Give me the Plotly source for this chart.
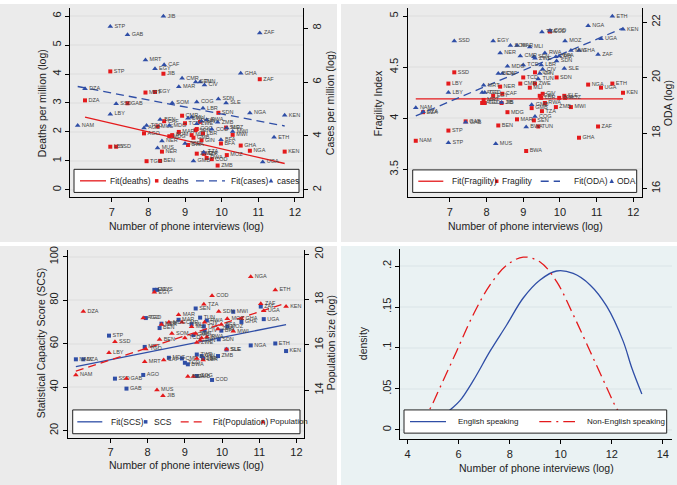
import plotly.graph_objects as go

W, H = 677, 485

# ---------------- data ----------------
codes = ["NAM", "DZA", "STP", "LBY", "SSD", "GAB", "AGO", "MRT", "TGO", "EGY", "MUS", "BEN", "NER",
         "JIB", "CAF", "MDG", "SOM", "MAR", "CMR", "TCD", "BWA", "MLI", "GMB", "SEN", "COG", "ZWE",
         "TUN", "GIN", "LBR", "TZA", "CIV", "RWA", "COD", "ZMB", "SDN", "BFA", "SLE", "MOZ", "MWI",
         "GHA", "NGA", "ZAF", "UGA", "ETH", "KEN"]
log_interviews = [6.07, 6.27, 6.96, 6.96, 7.12, 7.43, 7.88, 7.92, 7.95, 8.18, 8.25, 8.32, 8.37,
                  8.41, 8.43, 8.57, 8.65, 8.83, 8.92, 9.00, 9.08, 9.18, 9.23, 9.29, 9.32, 9.32,
                  9.41, 9.45, 9.49, 9.51, 9.53, 9.59, 9.73, 9.89, 9.91, 9.98, 10.12, 10.14, 10.30,
                  10.52, 10.77, 11.04, 11.12, 11.43, 11.72]

deaths = [None, 3.09, 4.09, 1.49, 1.49, 2.99, 1.95, 3.36, 0.99, 3.38, 2.19, 1.00, 1.32,
          4.01, 2.37, 1.85, 1.89, 2.00, 2.56, 2.30, 1.55, 1.89, 1.80, 2.06, 2.10, 1.25,
          2.35, 1.71, 1.95, 1.25, 1.25, 1.10, 1.06, 0.84, 2.66, 1.60, 2.15, 1.20, 1.90,
          1.53, 1.35, 3.82, None, None, 1.32]
cases = [4.39, 5.75, 8.06, 4.81, 5.20, 7.76, 4.30, 6.82, 4.39, 6.49, 3.55, 4.61, 3.81,
         8.44, 6.64, 4.39, 5.22, 5.83, 6.14, 3.72, 4.66, 4.69, 3.07, 6.00, 5.26, 4.45,
         6.00, 4.55, 5.03, 3.40, 5.89, 4.60, 4.25, 4.51, 5.37, 3.86, 5.22, 4.30, 4.17,
         6.33, 4.85, 7.82, 3.03, 3.95, 4.77]

fragility = [3.78, 4.06, 3.88, 4.34, 4.45, 3.97, 4.15, 4.18, 4.15, 4.22, None, 3.93, 4.31,
             4.15, 4.24, 4.06, None, 3.99, 4.34, 4.40, 3.68, 4.30, 4.10, 3.98, 4.45, 4.34,
             3.92, 4.22, 4.20, 4.07, 4.24, 4.15, 4.85, 4.11, 4.40, 4.20, 4.22, 4.20, 4.11,
             3.81, 4.33, 3.92, 4.30, 4.34, 4.25]
oda = [18.91, 18.77, 17.65, 19.46, 21.32, 18.39, 19.46, 19.72, 19.46, 21.32, 17.61, 20.15, 20.89,
       19.10, 20.15, 20.41, 21.16, 21.16, 20.78, 20.45, 18.22, 21.10, 19.02, 20.75, 18.60, 20.70,
       19.95, 20.15, 20.45, 21.64, 20.30, 20.89, 21.70, 20.75, 20.60, 20.78, 20.33, 21.32, 20.98,
       20.98, 21.87, 20.83, 21.40, 22.21, 21.74]

scs = [52.8, 52.8, 63.7, None, 43.9, 39.3, 45.6, 58.5, 71.8, 84.8, 84.8, 67.2, 69.2,
       None, None, 53.5, None, 71.0, 53.2, 51.2, 50.5, 69.0, 64.0, 76.2, 45.1, 55.0,
       72.0, 54.3, 53.2, 68.0, 66.0, 70.7, 43.3, 54.3, 62.0, 66.0, 57.3, 68.0, 74.7,
       70.0, 59.2, 77.1, 71.3, 60.1, 56.6]
population = [14.67, 17.47, None, 15.65, 16.13, 14.51, 17.18, 15.25, 15.82, 18.32, 14.00, 16.23, 16.90,
              13.75, 15.33, 17.00, 16.50, 17.33, 17.00, 16.30, 14.60, 16.80, 14.60, 16.50, 15.40, 16.10,
              16.20, 16.30, 15.33, 17.79, 17.00, 16.35, 18.17, 16.70, 17.47, 16.90, 15.80, 17.15, 16.60,
              17.15, 19.00, 17.81, 17.50, 18.42, 17.69]

# linear fits: (intercept, slope)
fit_deaths = (4.351, -0.2936)
fit_cases = (7.410, -0.2594)
fit_fragility = (4.19, 0.0)
fit_oda = (15.215, 0.5605)
fit_scs = (28.56, 3.434)
fit_population = (11.617, 0.531)

# kernel densities of log phone interviews
dens_x_english = [5.30, 5.66, 6.05, 6.57, 7.23, 7.88, 8.53, 9.19, 9.84, 10.49, 11.15, 11.80, 12.45, 12.78, 13.18]
dens_y_english = [0.013, 0.024, 0.0355, 0.060, 0.096, 0.128, 0.161, 0.183, 0.194, 0.191, 0.177, 0.151, 0.108, 0.076, 0.0436]
dens_x_non = [4.50, 4.85, 5.27, 5.92, 6.57, 7.23, 7.88, 8.53, 9.19, 9.84, 10.49, 11.15, 11.80, 12.20, 12.55]
dens_y_non = [0.008, 0.024, 0.0517, 0.096, 0.1406, 0.177, 0.201, 0.211, 0.205, 0.181, 0.1406, 0.096, 0.0517, 0.0255, 0.010]

# ---------------- style ----------------
RED = "#e41a1c"
BLUE = "#2f4ea6"
GREY_BG = "#ebebeb"
BLUE_BG = "#eaf2f3"
GRID = "#e4e4e4"
GRID4 = "#e2ebed"
FONT = "Liberation Sans, Arial, sans-serif"
LBL = dict(size=5.5, color="#444444", family=FONT)


def px_x(a, b):
    return [a / W, b / W]


def px_y(top, bottom):
    return [1 - bottom / H, 1 - top / H]


def pts(vals):
    xs = [x for x, v in zip(log_interviews, vals) if v is not None]
    ys = [v for v in vals if v is not None]
    ts = [c for c, v in zip(codes, vals) if v is not None]
    return xs, ys, ts


fig = go.Figure()


def add_scatter(vals, xa, ya, symbol, color, size, name):
    xs, ys, ts = pts(vals)
    fig.add_trace(go.Scatter(x=xs, y=ys, text=ts, mode="markers+text", textposition="middle right",
                             textfont=LBL, marker=dict(symbol=symbol, color=color, size=size, line=dict(width=0)),
                             xaxis=xa, yaxis=ya, name=name, showlegend=False, cliponaxis=False))


def add_fit(vals, fit, xa, ya, color, dash, name):
    xs, ys, ts = pts(vals)
    x0, x1 = min(xs), max(xs)
    a, b = fit
    fig.add_trace(go.Scatter(x=[x0, x1], y=[a + b * x0, a + b * x1], mode="lines",
                             line=dict(color=color, width=1.3, dash=dash), xaxis=xa, yaxis=ya,
                             name=name, showlegend=False))


# panel 1
add_fit(deaths, fit_deaths, "x", "y", RED, "solid", "Fit(deaths)")
add_fit(cases, fit_cases, "x", "y2", BLUE, "8px,5px", "Fit(cases)")
add_scatter(deaths, "x", "y", "square", RED, 4, "deaths")
add_scatter(cases, "x", "y2", "triangle-up", BLUE, 5, "cases")
# panel 2
add_fit(fragility, fit_fragility, "x2", "y3", RED, "solid", "Fit(Fragility)")
add_fit(oda, fit_oda, "x2", "y4", BLUE, "8px,5px", "Fit(ODA)")
add_scatter(fragility, "x2", "y3", "square", RED, 4, "Fragility")
add_scatter(oda, "x2", "y4", "triangle-up", BLUE, 5, "ODA")
# panel 3
add_fit(scs, fit_scs, "x3", "y5", BLUE, "solid", "Fit(SCS)")
add_fit(population, fit_population, "x3", "y6", RED, "8px,5px", "Fit(Population)")
add_scatter(scs, "x3", "y5", "square", BLUE, 4, "SCS")
add_scatter(population, "x3", "y6", "triangle-up", RED, 5, "Population")
# panel 4
fig.add_trace(go.Scatter(x=dens_x_english, y=dens_y_english, mode="lines",
                         line=dict(color=BLUE, width=1.3, shape="spline"),
                         xaxis="x4", yaxis="y7", name="English speaking", showlegend=False))
fig.add_trace(go.Scatter(x=dens_x_non, y=dens_y_non, mode="lines",
                         line=dict(color=RED, width=1.3, dash="12px,5px,2px,5px", shape="spline"),
                         xaxis="x4", yaxis="y7", name="Non-English speaking", showlegend=False))

tickfont = dict(size=11, color="#222222", family=FONT)
common_x = dict(showline=True, linecolor="black", linewidth=1, ticks="outside", ticklen=4, tickcolor="black",
                zeroline=False, tickfont=tickfont)
common_y = dict(showline=True, linecolor="black", linewidth=1, ticks="outside", ticklen=4, tickcolor="black",
                zeroline=False, tickfont=tickfont, tickangle=-90)

fig.update_layout(
    width=W, height=H, margin=dict(l=0, r=0, t=0, b=0),
    paper_bgcolor="white", plot_bgcolor="white", showlegend=False,
    font=dict(family=FONT, color="#222222"),
    xaxis=dict(domain=px_x(70, 303), range=[5.86, 12.22], tickvals=[7, 8, 9, 10, 11, 12], anchor="y",
               showgrid=False, **common_x),
    yaxis=dict(domain=px_y(4, 195), range=[-0.26, 6.28], tickvals=[0, 1, 2, 3, 4, 5, 6], anchor="x",
               showgrid=True, gridcolor=GRID, gridwidth=1.5, **common_y),
    yaxis2=dict(overlaying="y", side="right", anchor="x", range=[1.72, 8.75], tickvals=[2, 4, 6, 8],
                showgrid=False, **common_y),
    xaxis2=dict(domain=px_x(407.7, 641.7), range=[5.85, 12.23], tickvals=[7, 8, 9, 10, 11, 12], anchor="y3",
                showgrid=False, **common_x),
    yaxis3=dict(domain=px_y(4, 195), range=[3.226, 5.08], tickvals=[3.5, 4, 4.5, 5], ticktext=["3.5", "4", "4.5", "5"],
                anchor="x2", showgrid=True, gridcolor=GRID, gridwidth=1.5, **common_y),
    yaxis4=dict(overlaying="y3", side="right", anchor="x2", range=[15.68, 22.51], tickvals=[16, 18, 20, 22],
                showgrid=False, **common_y),
    xaxis3=dict(domain=px_x(67.7, 304.3), range=[5.85, 12.21], tickvals=[7, 8, 9, 10, 11, 12], anchor="y5",
                showgrid=False, **common_x),
    yaxis5=dict(domain=px_y(247.7, 437.3), range=[16.7, 103.3], tickvals=[20, 40, 60, 80, 100], anchor="x3",
                showgrid=True, gridcolor=GRID, gridwidth=1.5, **common_y),
    yaxis6=dict(overlaying="y5", side="right", anchor="x3", range=[11.9, 20.2], tickvals=[14, 16, 18, 20],
                showgrid=False, **common_y),
    xaxis4=dict(domain=px_x(400, 671.7), range=[3.70, 14.35], tickvals=[4, 6, 8, 10, 12, 14], anchor="y7",
                showgrid=False, **common_x),
    yaxis7=dict(domain=px_y(246.7, 439), range=[-0.0118, 0.2213], tickvals=[0, 0.05, 0.1, 0.15, 0.2],
                ticktext=["0", ".05", ".1", ".15", ".2"], anchor="x4", showgrid=True, gridcolor=GRID4,
                gridwidth=1.5, **common_y),
)

shapes = []
annotations = []


def rect(x0, y0, x1, y1, fill, line=None, layer="below"):
    shapes.append(dict(type="rect", xref="paper", yref="paper", x0=x0 / W, x1=x1 / W, y0=1 - y1 / H, y1=1 - y0 / H,
                       fillcolor=fill, line=dict(width=1 if line else 0, color=line or fill), layer=layer))


def hline(x0, x1, y, color, dash):
    shapes.append(dict(type="line", xref="paper", yref="paper", x0=x0 / W, x1=x1 / W, y0=1 - y / H, y1=1 - y / H,
                       line=dict(color=color, width=1.3, dash=dash), layer="above"))


def square(cx, cy, color, s=3.5):
    shapes.append(dict(type="rect", xref="paper", yref="paper", x0=(cx - s / 2) / W, x1=(cx + s / 2) / W,
                       y0=1 - (cy + s / 2) / H, y1=1 - (cy - s / 2) / H, fillcolor=color, line=dict(width=0),
                       layer="above"))


def tri(cx, cy, color, s=4.5):
    p = "M {} {} L {} {} L {} {} Z".format((cx - s / 2) / W, 1 - (cy + s / 2.6) / H, (cx + s / 2) / W,
                                           1 - (cy + s / 2.6) / H, cx / W, 1 - (cy - s / 1.8) / H)
    shapes.append(dict(type="path", xref="paper", yref="paper", path=p, fillcolor=color, line=dict(width=0),
                       layer="above"))


def text(x, y, s, size=8.5, angle=0, anchor="left"):
    annotations.append(dict(xref="paper", yref="paper", x=x / W, y=1 - y / H, text=s, showarrow=False,
                            textangle=angle, xanchor=anchor, yanchor="middle",
                            font=dict(size=size, family=FONT, color="#222222")))


# panel backgrounds
rect(0, 0, 337, 240, GREY_BG)
rect(341, 0, 677, 240, GREY_BG)
rect(0, 244, 337, 485, GREY_BG)
rect(341, 244, 677, 485, BLUE_BG)

# axis titles
text(42, 100, "Deaths per million (log)", 10.5, -90, "center")
text(330, 100, "Cases per million (log)", 10.5, -90, "center")
text(186.5, 224, "Number of phone interviews (log)", 10.5, 0, "center")
text(378, 100, "Fragility Index", 10.5, -90, "center")
text(668, 100, "ODA (log)", 10.5, -90, "center")
text(525, 224, "Number of phone interviews (log)", 10.5, 0, "center")
text(41, 342, "Statistical Capacity Score (SCS)", 10.5, -90, "center")
text(331, 342, "Population size (log)", 10.5, -90, "center")
text(186, 465, "Number of phone interviews (log)", 10.5, 0, "center")
text(363.3, 341.7, "density", 10.5, -90, "center")
text(536, 467.7, "Number of phone interviews (log)", 10.5, 0, "center")

# legend panel 1
rect(74, 166.7, 299, 190, "white", "#222222", "above")
hline(80, 106, 178.3, RED, "solid")
text(108, 178.3, "Fit(deaths)")
square(156.7, 178.3, RED)
text(161, 178.3, "deaths")
hline(196, 225, 178.3, BLUE, "8px,5px")
text(229, 178.3, "Fit(cases)")
tri(271, 178.3, BLUE)
text(275, 178.3, "cases")

# legend panel 2
rect(412.7, 167.3, 636.7, 190, "white", "#222222", "above")
hline(418.3, 443.3, 178.7, RED, "solid")
text(450, 178.7, "Fit(Fragility)")
square(496.7, 178.7, RED)
text(500, 178.7, "Fragility")
hline(540.7, 560, 178.7, BLUE, "8px,5px")
text(572, 178.7, "Fit(ODA)")
tri(611.7, 178.7, BLUE)
text(615, 178.7, "ODA")

# legend panel 3
rect(72.7, 409.3, 300, 433.3, "white", "#222222", "above")
hline(77.3, 102.3, 421.3, BLUE, "solid")
text(109, 421.3, "Fit(SCS)")
square(145.7, 421.3, BLUE)
text(152, 421.3, "SCS")
hline(180.7, 205, 421.3, RED, "8px,5px")
text(211, 421.3, "Fit(Population)")
tri(263, 421.3, RED)
text(268, 421.3, "Population", 8)

# legend panel 4
rect(404, 409.3, 666.7, 432.7, "white", "#222222", "above")
hline(410, 446, 421, BLUE, "solid")
text(456, 421, "English speaking", 8)
hline(539.3, 575, 421, RED, "12px,5px,2px,5px")
text(585, 421, "Non-English speaking", 8)

fig.update_layout(shapes=shapes, annotations=annotations)
fig.write_html("out.html", config={"displayModeBar": False},
               post_script="document.body.style.margin='0px';document.body.style.padding='0px';")
